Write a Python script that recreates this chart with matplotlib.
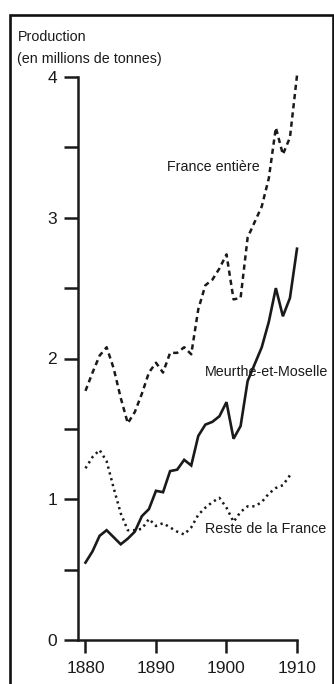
import matplotlib
matplotlib.use("Agg")
import matplotlib.pyplot as plt
from matplotlib.patches import Rectangle
from matplotlib.ticker import MultipleLocator

plt.rcParams['font.family'] = ['Liberation Sans', 'DejaVu Sans']

years = list(range(1880, 1911))
france_entiere = [1.77, 1.90, 2.02, 2.08, 1.93, 1.72, 1.54, 1.62, 1.75, 1.90,
                  1.97, 1.90, 2.04, 2.04, 2.08, 2.03, 2.35, 2.52, 2.56, 2.64,
                  2.74, 2.42, 2.43, 2.86, 2.97, 3.08, 3.28, 3.64, 3.45, 3.57, 4.01]
meurthe_moselle = [0.55, 0.63, 0.74, 0.78, 0.73, 0.68, 0.72, 0.77, 0.88, 0.93,
                   1.06, 1.05, 1.20, 1.21, 1.28, 1.24, 1.45, 1.53, 1.55, 1.59,
                   1.69, 1.43, 1.52, 1.84, 1.96, 2.08, 2.26, 2.50, 2.30, 2.43, 2.78]
reste_years = list(range(1880, 1910))
reste_france = [1.22, 1.30, 1.35, 1.27, 1.08, 0.90, 0.78, 0.78, 0.79, 0.86,
                0.81, 0.83, 0.80, 0.77, 0.75, 0.80, 0.89, 0.94, 0.98, 1.01,
                0.94, 0.84, 0.91, 0.95, 0.95, 0.98, 1.04, 1.08, 1.10, 1.17]
x_ticks = [1880, 1890, 1900, 1910]
y_ticks = [0, 1, 2, 3, 4]

W, H = 334, 684
fig = plt.figure(figsize=(W / 100, H / 100), dpi=100)
fig.patch.set_facecolor('white')

def px(x, y):
    return x / W, 1 - y / H

# outer frame
fig.patches.append(Rectangle((9.5 / W, -0.05), (332.5 - 9.5) / W, (684 - 15) / H + 0.05,
                             transform=fig.transFigure, fill=False,
                             edgecolor='#111111', linewidth=1.9))

left, right = 78, 297
top, bottom = 77, 640
ax = fig.add_axes([left / W, 1 - bottom / H, (right - left) / W, (bottom - top) / H])
ax.set_facecolor('none')

ink = '#1a1a1a'
ax.plot(years, france_entiere, color=ink, lw=1.8, linestyle=(0, (2.1, 1.6)),
        clip_on=False, dash_capstyle='butt')
ax.plot(years, meurthe_moselle, color=ink, lw=1.9, clip_on=False,
        solid_joinstyle='miter')
ax.plot(reste_years, reste_france, color=ink, lw=1.8, linestyle=(0, (0.9, 1.5)),
        clip_on=False)

ax.set_xlim(1878.94, 1910)
ax.set_ylim(0, 4)
for s in ['top', 'right']:
    ax.spines[s].set_visible(False)
for s in ['left', 'bottom']:
    ax.spines[s].set_linewidth(1.8)
    ax.spines[s].set_color(ink)
    ax.spines[s].set_capstyle('projecting')

ax.set_xticks(x_ticks)
ax.set_xticklabels([str(t) for t in x_ticks])
ax.set_yticks(y_ticks)
ax.set_yticklabels([str(t) for t in y_ticks])
ax.yaxis.set_minor_locator(MultipleLocator(0.5))
ax.tick_params(axis='y', which='both', direction='out', length=10, width=1.8,
               color=ink, labelsize=12.5, pad=5, labelcolor=ink)
ax.tick_params(axis='x', which='major', direction='out', length=9, width=1.8,
               color=ink, labelsize=12.5, pad=6, labelcolor=ink)
ax.tick_params(axis='x', which='minor', length=0)

fs = 10.3
fig.text(*px(18, 41), 'Production', fontsize=fs, color=ink, ha='left', va='baseline')
fig.text(*px(17, 63), '(en millions de tonnes)', fontsize=fs, color=ink, ha='left', va='baseline')
fig.text(*px(167, 167), 'France entière', fontsize=fs, color=ink, ha='left', va='center')
fig.text(*px(205, 372), 'Meurthe-et-Moselle', fontsize=fs, color=ink, ha='left', va='center')
fig.text(*px(205, 529), 'Reste de la France', fontsize=fs, color=ink, ha='left', va='center')

fig.savefig('out.png', dpi=100)
